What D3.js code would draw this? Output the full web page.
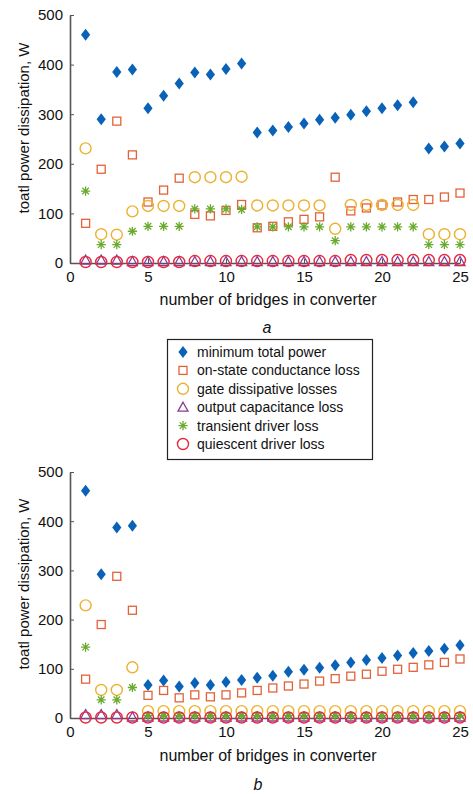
<!DOCTYPE html>
<html>
<head>
<meta charset="utf-8">
<script src="https://cdn.jsdelivr.net/npm/d3@7"></script>
<style>
  body { margin: 0; background: #fff; }
  text { font-family: "Liberation Sans", Arial, sans-serif; fill: #111; }
</style>
</head>
<body>
<svg id="chart" width="473" height="794"></svg>
<script>
let bridges = [1,2,3,4,5,6,7,8,9,10,11,12,13,14,15,16,17,18,19,20,21,22,23,24,25]

// panel a
let totalA      = [460,290,385,390,312,337,362,384,380,391,402,263,267,274,281,289,293,299,306,312,318,324,231,235,241]
let conductA    = [80,189,286,218,123,147,171,98,95,106,118,71,74,83,88,93,173,105,111,117,123,128,128,133,141]
let gateA       = [231,58,57,104,115,115,115,173,173,173,174,116,116,116,116,116,69,117,117,117,117,117,58,58,58]
let capA        = [6,6,6,3,3,3,3,3,3,3,3,3,3,3,3,3,3,3,3,3,3,3,3,3,3]
let transientA  = [145,37,37,64,74,74,74,109,109,109,108,73,73,73,73,73,45,73,73,73,73,73,37,37,37]
let quiescentA  = [2,2,2,2,2,2,2,4,4,4,4,4,4,4,4,4,4,6,6,6,6,6,6,6,6]

// panel b
let totalB      = [462,292,387,391,67,76,64,71,67,73,77,82,86,94,98,102,107,113,118,122,127,132,136,141,148]
let conductB    = [79,190,288,219,46,56,41,47,43,47,51,56,61,65,69,75,80,85,89,95,99,103,108,113,120]
let gateB       = [229,57,57,103,14,14,14,14,14,14,14,14,14,14,14,14,14,14,14,14,14,14,14,14,14]
let capB        = [7,7,7,2,2,2,2,2,2,2,2,2,2,2,2,2,2,2,2,2,2,2,2,2,2]
let transientB  = [144,37,37,62,5,5,5,5,5,5,5,5,5,5,5,5,5,5,5,5,5,5,5,5,5]
let quiescentB  = [1,1,1,1,1,1,1,1,1,1,1,1,1,1,1,1,1,1,1,1,1,1,1,1,1]

let yTicks = [0,100,200,300,400,500]
let xTicks = [0,5,10,15,20,25]

let seriesNames = ["minimum total power","on-state conductance loss","gate dissipative losses",
                   "output capacitance loss","transient driver loss","quiescent driver loss"]
let seriesKinds = ["diamond","square","circle","triangle","star","circle"]
let seriesColors = ["#0a62b8","#e2623a","#ecb131","#8a3a96","#6aab2e","#e8283c"]

let svg = d3.select("#chart")

function drawMarker (g, kind, color) {
  if (kind === "diamond") {
    g.append("path").attr("d", "M0,-6L4.6,0L0,6L-4.6,0Z").attr("fill", color)
  } else if (kind === "square") {
    g.append("rect").attr("x", -4).attr("y", -4).attr("width", 8).attr("height", 8)
      .attr("fill", "none").attr("stroke", color).attr("stroke-width", 1.3)
  } else if (kind === "circle") {
    g.append("circle").attr("r", 5.5).attr("fill", "none").attr("stroke", color).attr("stroke-width", 1.4)
  } else if (kind === "triangle") {
    g.append("path").attr("d", "M0,-5L5,4L-5,4Z").attr("fill", "none").attr("stroke", color).attr("stroke-width", 1.3)
  } else if (kind === "star") {
    let r = 4.6
    let d = [0,45,90,135].map(a => {
      let c = Math.cos(a * Math.PI / 180) * r, s = Math.sin(a * Math.PI / 180) * r
      return `M${-c},${-s}L${c},${s}`
    }).join("")
    g.append("path").attr("d", d).attr("stroke", color).attr("stroke-width", 1.3).attr("fill", "none")
  }
}

function panel (top, bottom, labelY, series, letter, letterX, letterY, xLabelY) {
  let x = d3.scaleLinear().domain([0,25]).range([70,460])
  let y = d3.scaleLinear().domain([0,500]).range([bottom, top])

  let yAxis = svg.append("g").attr("transform", "translate(70,0)")
    .call(d3.axisLeft(y).tickValues(yTicks).tickSize(-4).tickSizeOuter(0).tickPadding(7))
  let xAxis = svg.append("g").attr("transform", `translate(0,${bottom})`)
    .call(d3.axisBottom(x).tickValues(xTicks).tickSize(-4).tickSizeOuter(0).tickPadding(8))

  ;[yAxis, xAxis].forEach(a => {
    a.select(".domain").attr("stroke", "#555").attr("stroke-width", 1.6)
    a.selectAll(".tick line").attr("stroke", "#555")
    a.selectAll(".tick text").style("font-size", "15px").attr("fill", "#111")
  })

  series.forEach((vals, si) => {
    svg.append("g").selectAll("g").data(vals).enter().append("g")
      .attr("transform", (d, i) => `translate(${x(bridges[i])},${y(d)})`)
      .each(function () { drawMarker(d3.select(this), seriesKinds[si], seriesColors[si]) })
  })

  svg.append("text").attr("transform", `translate(29,${labelY}) rotate(-90)`)
    .attr("text-anchor", "middle").style("font-size", "15px").text("toatl power dissipation, W")

  svg.append("text").attr("x", 268).attr("y", xLabelY).attr("text-anchor", "middle")
    .style("font-size", "16px").text("number of bridges in converter")

  svg.append("text").attr("x", letterX).attr("y", letterY).attr("text-anchor", "middle")
    .style("font-size", "16px").style("font-style", "italic").text(letter)
}

panel(15, 263, 128, [totalA, conductA, gateA, capA, transientA, quiescentA], "a", 267, 333, 305)
panel(472, 718, 584, [totalB, conductB, gateB, capB, transientB, quiescentB], "b", 258, 790, 761)

// legend
let legend = svg.append("g")
legend.append("rect").attr("x", 167.5).attr("y", 339.5).attr("width", 205).attr("height", 120)
  .attr("fill", "#fff").attr("stroke", "#222").attr("stroke-width", 1.2)
let legendItems = legend.selectAll("g.item").data(seriesNames).enter().append("g")
  .attr("class", "item").attr("transform", (d, i) => `translate(183,${352 + i * 18.4})`)
legendItems.each(function (d, i) { drawMarker(d3.select(this), seriesKinds[i], seriesColors[i]) })
legendItems.append("text").attr("x", 14).attr("dy", "0.35em").style("font-size", "14px").text(d => d)
</script>
</body>
</html>
